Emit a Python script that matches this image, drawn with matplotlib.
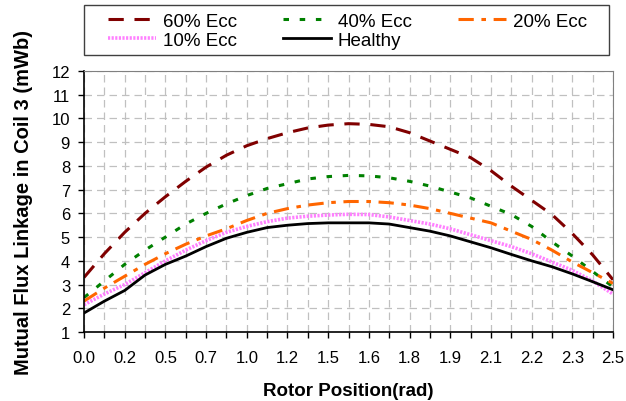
import numpy as np
import matplotlib
matplotlib.use('Agg')
from matplotlib import pyplot as plt
from matplotlib.patches import Rectangle

plt.rcParams['font.family'] = ['Liberation Sans', 'DejaVu Sans']

# category positions (27 ticks), labels on every second one
tick_labels = ['0.0', '0.2', '0.5', '0.7', '1.0', '1.2', '1.5',
               '1.6', '1.8', '1.9', '2.1', '2.2', '2.3', '2.5']

ecc60 = [3.3, 4.3, 5.2, 6.0, 6.7, 7.35, 7.95, 8.45, 8.85, 9.15, 9.4, 9.6, 9.72, 9.78,
         9.75, 9.65, 9.4, 9.05, 8.7, 8.35, 7.8, 7.15, 6.55, 5.95, 5.15, 4.25, 3.2]
ecc40 = [2.45, 3.15, 3.85, 4.45, 5.0, 5.55, 6.0, 6.4, 6.75, 7.05, 7.25, 7.45, 7.55, 7.6,
         7.58, 7.5, 7.35, 7.15, 6.9, 6.65, 6.3, 5.95, 5.45, 4.8, 4.2, 3.55, 2.9]
ecc20 = [2.3, 2.85, 3.35, 3.85, 4.3, 4.7, 5.05, 5.35, 5.7, 6.0, 6.2, 6.35, 6.45, 6.5,
         6.5, 6.45, 6.35, 6.2, 6.0, 5.8, 5.6, 5.25, 4.9, 4.45, 3.95, 3.5, 3.05]
ecc10 = [2.15, 2.6, 3.0, 3.5, 4.0, 4.45, 4.85, 5.2, 5.45, 5.65, 5.8, 5.88, 5.93, 5.96,
         5.95, 5.85, 5.7, 5.55, 5.35, 5.1, 4.85, 4.6, 4.3, 3.95, 3.6, 3.15, 2.6]
healthy = [1.8, 2.3, 2.75, 3.4, 3.85, 4.2, 4.6, 4.95, 5.2, 5.4, 5.5, 5.57, 5.6, 5.6,
           5.6, 5.55, 5.4, 5.25, 5.05, 4.8, 4.55, 4.27, 4.0, 3.75, 3.45, 3.12, 2.78]

x = np.arange(len(healthy))
W, H = 626, 402

fig = plt.figure(figsize=(6.26, 4.02), dpi=100)
ax = fig.add_axes([84 / W, 1 - 333 / H, 529 / W, 261 / H])

l60, = ax.plot(x, ecc60, color='#800000', lw=2.2, linestyle=(0, (5, 3.5)), label='60% Ecc')
l40, = ax.plot(x, ecc40, color='#008000', lw=2.2, linestyle=(0, (1.8, 3.5)), label='40% Ecc')
l20, = ax.plot(x, ecc20, color='#FF6600', lw=2.2, linestyle=(0, (5, 2.5, 1.5, 2.5)), label='20% Ecc')
l10, = ax.plot(x, ecc10, color='#FF80FF', lw=2.6, linestyle=(0, (0.6, 0.4)), label='10% Ecc')
lh, = ax.plot(x, healthy, color='black', lw=2.0, label='Healthy')

ax.set_xlim(0, 26)
ax.set_ylim(1, 12)
ax.set_xticks(x)
ax.set_xticklabels([tick_labels[i // 2] if i % 2 == 0 else '' for i in x])
ax.set_yticks(range(1, 13))
ax.tick_params(axis='both', direction='out', length=4, width=1, labelsize=12, color='black')
ax.tick_params(axis='x', pad=9)
ax.tick_params(axis='y', pad=6)
ax.grid(True, color='#c0c0c0', linestyle=(0, (6, 4)), linewidth=0.9)
ax.set_axisbelow(True)
for s in ['top', 'right']:
    ax.spines[s].set_color('#808080')
for s in ['left', 'bottom']:
    ax.spines[s].set_color('black')
    ax.spines[s].set_linewidth(1.2)

ax.set_xlabel('Rotor Position(rad)', fontsize=13.5, fontweight='bold')
ax.set_ylabel('Mutual Flux Linkage in Coil 3 (mWb)', fontsize=14.5, fontweight='bold')
ax.xaxis.set_label_coords(0.5, (333 - 383) / 261)
ax.yaxis.set_label_coords((33 - 84) / 529, 0.5)

# legend frame drawn separately, entries placed inside it
fig.patches.append(Rectangle((84 / W, 1 - 56 / H), 525 / W, 50.5 / H,
                             transform=fig.transFigure, fill=False,
                             edgecolor='#404040', linewidth=1.0))
# column-wise fill so the rows read 60/40/20 then 10/Healthy
leg = fig.legend([l60, l10, l40, lh, l20],
                 ['60% Ecc', '10% Ecc', '40% Ecc', 'Healthy', '20% Ecc'],
                 loc='center left', ncol=3, bbox_to_anchor=(108 / W, 1 - 31.5 / H),
                 fontsize=13.5, frameon=False, borderpad=0, borderaxespad=0,
                 handlelength=2.56, handletextpad=0.37, columnspacing=2.45,
                 labelspacing=0.1)

fig.savefig('out.png', dpi=100)
